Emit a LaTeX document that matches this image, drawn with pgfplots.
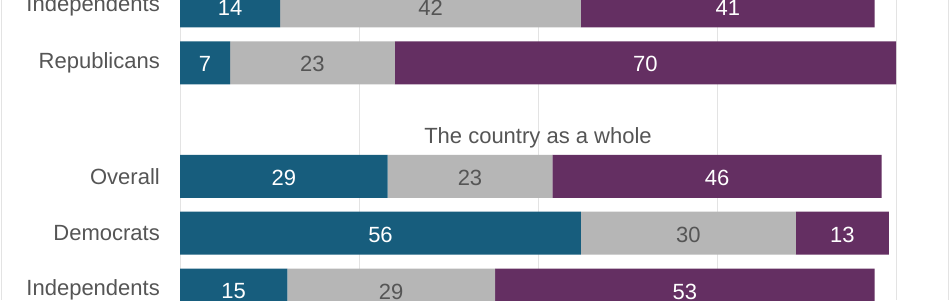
\documentclass[border=0pt]{standalone}
\usepackage{fontspec}
\setmainfont{Liberation Sans}
\usepackage{pgfplots}
\usepackage{pgfplotstable}
\pgfplotsset{compat=1.18}
\definecolor{cblue}{HTML}{175D7D}
\definecolor{cgray}{HTML}{B6B6B6}
\definecolor{cpurple}{HTML}{642F62}
\definecolor{labelgray}{HTML}{555555}
\definecolor{gridgray}{HTML}{E3E3E3}
\pgfplotstableread{
row blue gray purple
0 14 42 41
1 7 23 70
3 29 23 46
4 56 30 13
5 15 29 53
}\datatable
\begin{document}
\begin{tikzpicture}[x=1bp,y=1bp]
\useasboundingbox (0,0) rectangle (950,300);
\clip (0,0) rectangle (950,300);
\fill[white] (0,0) rectangle (950,300);
\draw[gridgray, line width=1bp] (1.5,0) -- (1.5,300);
\draw[gridgray, line width=1bp] (948.5,0) -- (948.5,300);
\begin{axis}[
  at={(180bp,0bp)}, anchor=south west,
  scale only axis, width=716bp, height=300bp,
  xmin=0, xmax=100,
  ymin=-0.1056, ymax=5.176, y dir=reverse,
  xbar stacked, bar width=43bp,
  axis line style={draw=none},
  xtick={0,25,50,75,100}, xticklabels={},
  major tick length=0pt,
  xmajorgrids, grid style={gridgray, line width=1bp},
  ytick={0,1,3,4,5},
  yticklabels={Independents,Republicans,Overall,Democrats,Independents},
  yticklabel style={font=\fontsize{22bp}{24bp}\selectfont, text=labelgray, inner sep=0pt, xshift=-20bp},
  point meta=explicit symbolic,
  nodes near coords={\pgfplotspointmeta},
  every node near coord/.append style={anchor=center, yshift=-1.5bp, font=\fontsize{22bp}{24bp}\selectfont},
]
\addplot[fill=cblue, draw=none, nodes near coords style={text=white}] table[x=blue, y=row, meta=blue] {\datatable};
\addplot[fill=cgray, draw=none, nodes near coords style={text=labelgray}] table[x=gray, y=row, meta=gray] {\datatable};
\addplot[fill=cpurple, draw=none, nodes near coords style={text=white}] table[x=purple, y=row, meta=purple] {\datatable};
\node[anchor=base, text=labelgray, font=\fontsize{22bp}{24bp}\selectfont] at (axis cs:50,2.412) {The country as a whole};
\end{axis}
\end{tikzpicture}
\end{document}
